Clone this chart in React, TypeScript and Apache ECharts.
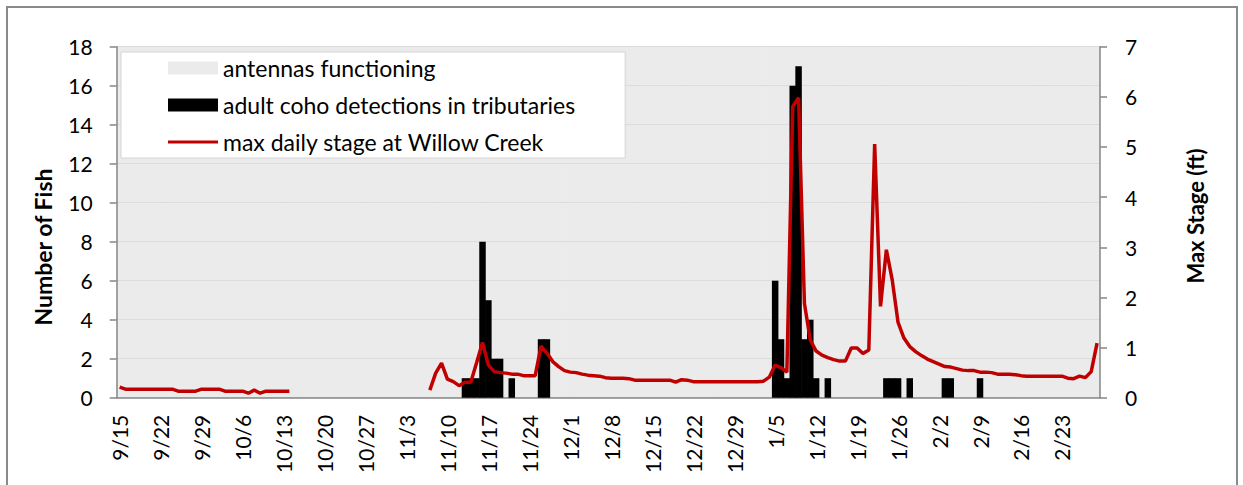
import React, { useEffect, useRef } from "react";
import * as echarts from "echarts";

// ---- Data -------------------------------------------------------------
// Daily categories: 9/15/2015 through 2/29/2016 (168 days)
const startYear = 2015;
const startMonthIndex = 8; // September
const startDayOfMonth = 15;
const dayCount = 168;

const dayLabels: string[] = [];
for (let i = 0; i < dayCount; i++) {
  const dt = new Date(Date.UTC(startYear, startMonthIndex, startDayOfMonth + i));
  dayLabels.push(`${dt.getUTCMonth() + 1}/${dt.getUTCDate()}`);
}

// Antennas functioning (full-height band, Number of Fish axis)
const antennaFrom = "9/15";
const antennaTo = "2/29";
const antennaLevel = 18;

// Adult coho detections in tributaries (Number of Fish)
const cohoDates = [
  "11/13", "11/14", "11/15", "11/16", "11/17", "11/18", "11/19", "11/21", "11/26", "11/27",
  "1/5", "1/6", "1/7", "1/8", "1/9", "1/10", "1/11", "1/12", "1/14",
  "1/24", "1/25", "1/26", "1/28", "2/3", "2/4", "2/9",
];
const cohoCounts = [
  1, 1, 1, 8, 5, 2, 2, 1, 3, 3,
  6, 3, 1, 16, 17, 3, 4, 1, 1,
  1, 1, 1, 1, 1, 1, 1,
];

// Max daily stage at Willow Creek (ft), one value per day (null = no data)
const stageFt: (number | null)[] = [
  0.21, 0.17, 0.17, 0.17, 0.17, 0.17, 0.17,
  0.17, 0.17, 0.17, 0.13, 0.13, 0.13, 0.13,
  0.17, 0.17, 0.17, 0.17, 0.13, 0.13, 0.13,
  0.13, 0.09, 0.15, 0.09, 0.13, 0.13, 0.13,
  0.13, 0.13, null, null, null, null, null,
  null, null, null, null, null, null, null,
  null, null, null, null, null, null, null,
  null, null, null, null, 0.15, 0.49, 0.69,
  0.37, 0.32, 0.24, 0.31, 0.31, 0.70, 1.10,
  0.65, 0.52, 0.50, 0.49, 0.47, 0.47, 0.44,
  0.44, 0.44, 1.03, 0.89, 0.72, 0.62, 0.54,
  0.51, 0.50, 0.47, 0.45, 0.44, 0.43, 0.40,
  0.39, 0.39, 0.39, 0.38, 0.35, 0.35, 0.35,
  0.35, 0.35, 0.35, 0.35, 0.31, 0.36, 0.35,
  0.32, 0.32, 0.32, 0.32, 0.32, 0.32, 0.32,
  0.32, 0.32, 0.32, 0.32, 0.32, 0.33, 0.41,
  0.65, 0.60, 0.51, 5.81, 5.98, 1.88, 1.15,
  0.93, 0.85, 0.80, 0.76, 0.73, 0.73, 0.99,
  0.99, 0.88, 0.95, 5.06, 1.82, 2.95, 2.35,
  1.50, 1.19, 1.02, 0.92, 0.84, 0.77, 0.72,
  0.67, 0.62, 0.61, 0.58, 0.55, 0.54, 0.54,
  0.51, 0.51, 0.50, 0.47, 0.47, 0.47, 0.46,
  0.44, 0.43, 0.43, 0.43, 0.43, 0.43, 0.43,
  0.43, 0.39, 0.38, 0.43, 0.40, 0.52, 1.09,
];

const seriesNames = [
  "antennas functioning",
  "adult coho detections in tributaries",
  "max daily stage at Willow Creek",
];

// ---- Component ---------------------------------------------------------
export default function App() {
  const ref = useRef<HTMLDivElement>(null);

  useEffect(() => {
    if (!ref.current) return;
    const chart = echarts.init(ref.current, undefined, { renderer: "svg" });

    const aFrom = dayLabels.indexOf(antennaFrom);
    const aTo = dayLabels.indexOf(antennaTo);
    const antennaData = dayLabels.map((_, i) => (i >= aFrom && i <= aTo ? antennaLevel : null));
    const cohoData: (number | null)[] = dayLabels.map(() => null);
    cohoDates.forEach((d, k) => {
      const idx = dayLabels.indexOf(d);
      if (idx >= 0) cohoData[idx] = cohoCounts[k];
    });

    const font = "Lato, 'Open Sans', sans-serif";
    const axisGray = "#868686";
    const red = "#c00000";

    chart.setOption({
      animation: false,
      backgroundColor: "#ffffff",
      textStyle: { fontFamily: font },
      grid: { left: 116.7, right: 143, top: 46.7, bottom: 87.3, containLabel: false },
      legend: {
        left: 121,
        top: 52,
        orient: "vertical",
        selectedMode: false,
        backgroundColor: "#ffffff",
        borderColor: "#d4d4d4",
        borderWidth: 1,
        padding: [4, 50, 4, 47],
        itemGap: 13,
        itemWidth: 50,
        itemHeight: 13,
        symbolKeepAspect: true,
        textStyle: { fontFamily: font, fontSize: 23, color: "#000", lineHeight: 24 },
        data: [
          { name: seriesNames[0], icon: "rect" },
          { name: seriesNames[1], icon: "rect" },
          {
            name: seriesNames[2],
            icon: "path://M0,0 L50,0 L50,3.2 L0,3.2 Z",
            itemStyle: { color: red },
          },
        ],
      },
      xAxis: {
        type: "category",
        data: dayLabels,
        boundaryGap: true,
        z: 3,
        axisLine: { lineStyle: { color: axisGray, width: 1.5 } },
        axisTick: { interval: 6, length: 7, lineStyle: { color: axisGray, width: 1.5 } },
        axisLabel: {
          interval: 6,
          rotate: 90,
          margin: 17,
          fontFamily: font,
          fontSize: 21,
          color: "#000",
        },
        splitLine: { show: false },
      },
      yAxis: [
        {
          type: "value",
          min: 0,
          max: 18,
          interval: 2,
          z: 3,
          axisLine: { show: true, lineStyle: { color: axisGray, width: 1.5 } },
          axisTick: { show: true, length: 7, lineStyle: { color: axisGray, width: 1.5 } },
          axisLabel: { margin: 24, fontFamily: font, fontSize: 21, color: "#000" },
          splitLine: { show: true, lineStyle: { color: "#dcdcdc", width: 1 } },
        },
        {
          type: "value",
          min: 0,
          max: 7,
          interval: 1,
          position: "right",
          z: 3,
          axisLine: { show: true, lineStyle: { color: axisGray, width: 1.5 } },
          axisTick: { show: true, length: 7, lineStyle: { color: axisGray, width: 1.5 } },
          axisLabel: { margin: 25, fontFamily: font, fontSize: 21, color: "#000" },
          splitLine: { show: false },
        },
      ],
      graphic: [
        {
          type: "rect",
          shape: { x: 7, y: 7, width: 1230, height: 500 },
          style: { fill: "none", stroke: "#8a8a8a", lineWidth: 2 },
          silent: true,
        },
        {
          type: "text",
          x: 43,
          y: 247,
          rotation: Math.PI / 2,
          style: {
            text: "Number of Fish",
            fontFamily: font,
            fontWeight: "bold",
            fontSize: 23,
            fill: "#000",
            align: "center",
            verticalAlign: "middle",
          },
        },
        {
          type: "text",
          x: 1195,
          y: 216,
          rotation: Math.PI / 2,
          style: {
            text: "Max Stage (ft)",
            fontFamily: font,
            fontWeight: "bold",
            fontSize: 22,
            fill: "#000",
            align: "center",
            verticalAlign: "middle",
          },
        },
      ],
      series: [
        {
          name: seriesNames[0],
          type: "bar",
          yAxisIndex: 0,
          data: antennaData,
          barWidth: 6.5,
          barGap: "-100%",
          z: 1,
          itemStyle: { color: "#ebebeb" },
          emphasis: { disabled: true },
        },
        {
          name: seriesNames[1],
          type: "bar",
          yAxisIndex: 0,
          data: cohoData,
          barWidth: 6.5,
          barGap: "-100%",
          z: 4,
          itemStyle: { color: "#000000" },
          emphasis: { disabled: true },
        },
        {
          name: seriesNames[2],
          type: "line",
          yAxisIndex: 1,
          data: stageFt,
          symbol: "none",
          connectNulls: false,
          z: 5,
          lineStyle: { color: red, width: 3.5 },
          itemStyle: { color: red },
          emphasis: { disabled: true },
        },
      ],
    });

    return () => chart.dispose();
  }, []);

  return (
    <div
      ref={ref}
      style={{ position: "fixed", left: 0, top: 0, width: 1243, height: 485 }}
    />
  );
}
